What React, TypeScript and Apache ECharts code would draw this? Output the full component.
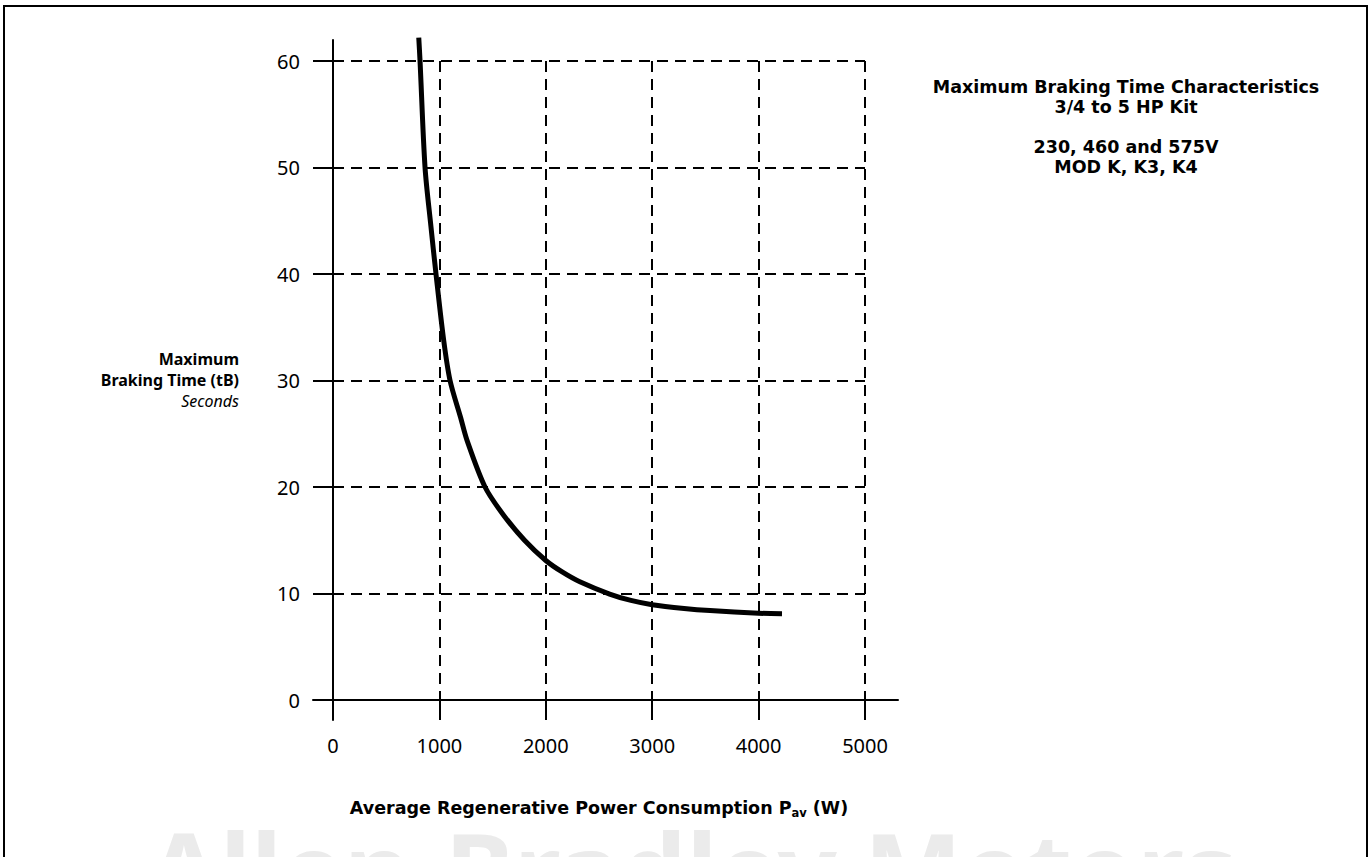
import React, { useEffect, useRef } from "react";
import * as echarts from "echarts";

// ---- data ----
const powerW = [806, 818, 865, 920, 968, 1040, 1100, 1200, 1259, 1429, 1600, 1800, 2000, 2150, 2320, 2600, 2800, 3000, 3300, 3543, 4000, 4220];
const brakingTime = [62.2, 60, 50, 44.5, 40, 33.8, 30, 26.5, 24.4, 20, 17.4, 15, 13.1, 12.05, 11.1, 9.95, 9.35, 8.95, 8.6, 8.4, 8.15, 8.1];

const xTicks = { min: 0, max: 5000, interval: 1000 };
const yTicks = { min: 0, max: 60, interval: 10 };

const titleLines = ["Maximum Braking Time Characteristics", "3/4 to 5 HP Kit"];
const subtitleLines = ["230, 460 and 575V", "MOD K, K3, K4"];
const yNameLines = ["Maximum", "Braking Time (tB)"];
const yUnit = "Seconds";
const xName = "Average Regenerative Power Consumption P";
const xNameSub = "av";
const xNameTail = " (W)";
const watermark = "Allen-Bradley Motors";

const FONT = "'Noto Sans', 'Open Sans', sans-serif";
const WIDE = "'DejaVu Sans', 'Noto Sans', sans-serif";

export default function App() {
  const ref = useRef<HTMLDivElement>(null);

  useEffect(() => {
    document.body.style.margin = "0";
    const chart = echarts.init(ref.current!, null, { renderer: "svg" });

    // grid 0: data area; grid 1: slightly larger, only to draw the extended axis lines
    const g0 = { left: 333, top: 61, width: 532, height: 639 };
    const pxPerX = g0.width / (xTicks.max - xTicks.min);
    const pxPerY = g0.height / (yTicks.max - yTicks.min);
    const g1 = { left: 313, top: 40, width: 585, height: 680 };
    const x1min = -(g0.left - g1.left) / pxPerX;
    const x1max = (g1.left + g1.width - g0.left) / pxPerX;
    const y1max = (g0.top + g0.height - g1.top) / pxPerY;
    const y1min = -(g1.top + g1.height - (g0.top + g0.height)) / pxPerY;

    const dashed = { color: "#000", width: 2, type: [11, 7] as number[] };
    const solid = { color: "#000", width: 2 };

    chart.setOption({
      animation: false,
      backgroundColor: "#fff",
      textStyle: { fontFamily: FONT },
      grid: [
        { ...g0, containLabel: false },
        { ...g1, containLabel: false },
      ],
      xAxis: [
        {
          type: "value",
          gridIndex: 0,
          min: xTicks.min,
          max: xTicks.max,
          interval: xTicks.interval,
          axisLine: { show: true, onZero: false, lineStyle: solid },
          axisTick: { show: true, inside: false, length: 20, lineStyle: solid },
          axisLabel: {
            show: true,
            margin: 35,
            color: "#000",
            fontSize: 20,
            fontFamily: FONT,
            formatter: (v: number) => String(v),
          },
          splitLine: { show: true, lineStyle: dashed },
        },
        {
          type: "value",
          gridIndex: 1,
          min: x1min,
          max: x1max,
          axisLine: { show: true, onZero: true, lineStyle: solid },
          axisTick: { show: false },
          axisLabel: { show: false },
          splitLine: { show: false },
        },
      ],
      yAxis: [
        {
          type: "value",
          gridIndex: 0,
          min: yTicks.min,
          max: yTicks.max,
          interval: yTicks.interval,
          axisLine: { show: true, onZero: false, lineStyle: solid },
          axisTick: { show: true, inside: false, length: 20, lineStyle: solid },
          axisLabel: { show: true, margin: 33, color: "#000", fontSize: 20, fontFamily: FONT },
          splitLine: { show: true, lineStyle: dashed },
        },
        {
          type: "value",
          gridIndex: 1,
          min: y1min,
          max: y1max,
          axisLine: { show: true, onZero: true, lineStyle: solid },
          axisTick: { show: false },
          axisLabel: { show: false },
          splitLine: { show: false },
        },
      ],
      series: [
        {
          type: "line",
          xAxisIndex: 0,
          yAxisIndex: 0,
          data: powerW.map((p, i) => [p, brakingTime[i]]),
          smooth: 0.3,
          showSymbol: false,
          clip: false,
          lineStyle: { color: "#000", width: 5, cap: "butt", join: "round" },
          z: 5,
        },
      ],
      graphic: [
        {
          type: "rect",
          shape: { x: 4, y: 6, width: 1363, height: 900 },
          style: { fill: "none", stroke: "#000", lineWidth: 2 },
          silent: true,
          z: 10,
        },
        {
          type: "text",
          x: 148,
          y: 816,
          style: {
            text: watermark,
            font: `bold 104px ${FONT}`,
            fill: "#ebebeb",
            textAlign: "left",
            textVerticalAlign: "top",
          },
          silent: true,
          z: -1,
        },
        ...titleLines.map((t, i) => ({
          type: "text",
          x: 1126,
          y: 87 + i * 20,
          style: { text: t, font: `bold 17.5px ${WIDE}`, fill: "#000", textAlign: "center", textVerticalAlign: "middle" },
        })),
        ...subtitleLines.map((t, i) => ({
          type: "text",
          x: 1126,
          y: 147 + i * 20,
          style: { text: t, font: `bold 17.5px ${WIDE}`, fill: "#000", textAlign: "center", textVerticalAlign: "middle" },
        })),
        ...yNameLines.map((t, i) => ({
          type: "text",
          x: 239,
          y: 359 + i * 21,
          style: { text: t, font: `bold 16px ${FONT}`, fill: "#000", textAlign: "right", textVerticalAlign: "middle" },
        })),
        {
          type: "text",
          x: 239,
          y: 401,
          style: { text: yUnit, font: `italic 16px ${FONT}`, fill: "#000", textAlign: "right", textVerticalAlign: "middle" },
        },
        {
          type: "text",
          x: 599,
          y: 808,
          style: {
            text: `{b|${xName}}{s|${xNameSub}}{b|${xNameTail}}`,
            textAlign: "center",
            textVerticalAlign: "middle",
            rich: {
              b: { font: `bold 17.5px ${WIDE}`, fill: "#000", lineHeight: 22, verticalAlign: "middle" },
              s: { font: `bold 11.5px ${WIDE}`, fill: "#000", lineHeight: 10, verticalAlign: "bottom" },
            },
          },
        },
      ],
    });

    return () => chart.dispose();
  }, []);

  return <div ref={ref} style={{ position: "fixed", left: 0, top: 0, width: 1372, height: 857 }} />;
}
